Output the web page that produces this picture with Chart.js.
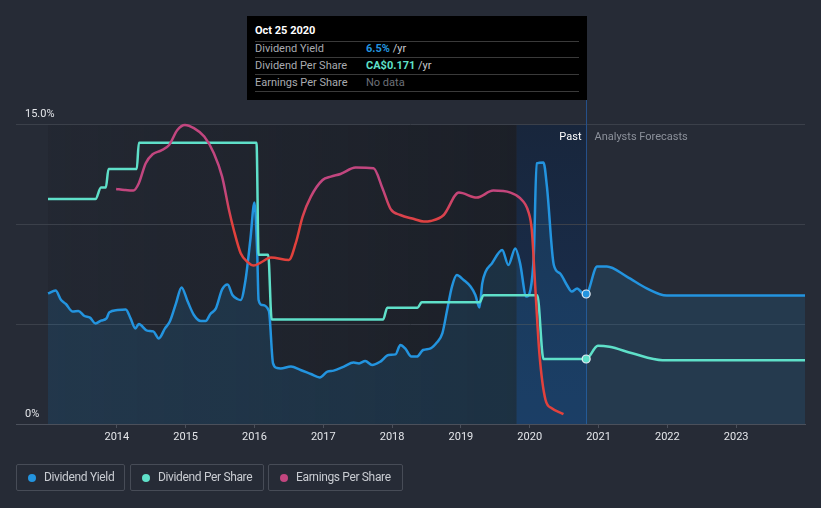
<!DOCTYPE html>
<html><head><meta charset="utf-8">
<script src="https://cdn.jsdelivr.net/npm/chart.js@4.4.0/dist/chart.umd.min.js"></script>
<style>
html,body{margin:0;padding:0;background:#262b36;width:821px;height:508px;overflow:hidden;font-family:Roboto,"Open Sans",sans-serif;}
#c{position:absolute;left:0;top:0;}
#tip{position:absolute;left:247px;top:16px;width:340px;height:84px;background:#000;}
#tip .t{position:absolute;left:8px;top:8px;font-size:11px;font-weight:bold;color:#fff;line-height:14px;}
#tip .sep{position:absolute;left:8px;width:324px;height:1px;background:#3a3a3a;}
#tip .k{position:absolute;left:8px;font-size:11px;color:#a9abb0;line-height:14px;}
#tip .v{position:absolute;left:119px;font-size:11px;color:#c9cbd0;line-height:14px;}
#legend{position:absolute;left:16px;top:464px;height:27px;}
.li{position:absolute;top:0;height:27px;box-sizing:border-box;border:1px solid #474c57;border-radius:2px;font-size:12px;color:#c9ccd2;line-height:25px;letter-spacing:-0.35px;}
.li .d{position:absolute;left:11px;top:9px;width:8px;height:8px;border-radius:50%;}
.li span{position:absolute;left:27px;top:0;white-space:nowrap;}
</style></head>
<body>
<canvas id="c" width="821" height="508"></canvas>
<div id="tip">
  <div class="t">Oct 25 2020</div>
  <div class="sep" style="top:25px"></div>
  <div class="k" style="top:26px">Dividend Yield</div>
  <div class="v" style="top:26px"><b style="color:#2394df">6.5%</b> /yr</div>
  <div class="sep" style="top:41px"></div>
  <div class="k" style="top:43px">Dividend Per Share</div>
  <div class="v" style="top:43px"><b style="color:#5fe0c9">CA$0.171</b> /yr</div>
  <div class="sep" style="top:58px"></div>
  <div class="k" style="top:60px">Earnings Per Share</div>
  <div class="v" style="top:60px;color:#6d7078">No data</div>
  <div class="sep" style="top:75px"></div>
</div>
<div id="legend">
  <div class="li" style="left:0;width:109px"><div class="d" style="background:#2394df"></div><span>Dividend Yield</span></div>
  <div class="li" style="left:114px;width:134px"><div class="d" style="background:#5fe0c9"></div><span>Dividend Per Share</span></div>
  <div class="li" style="left:252px;width:135px"><div class="d" style="background:#c2467f"></div><span>Earnings Per Share</span></div>
</div>
<script>
const tickYears = [2014,2015,2016,2017,2018,2019,2020,2021,2022,2023];
const NOW = 2020.82;
const PAST_START = 2019.81;

const yieldYears = [2013.0,2013.11,2013.19,2013.26,2013.36,2013.44,2013.53,2013.61,2013.69,2013.77,2013.85,2013.89,2014.01,2014.13,2014.20,2014.27,2014.32,2014.44,2014.53,2014.61,2014.70,2014.77,2014.86,2014.94,2015.03,2015.12,2015.22,2015.29,2015.36,2015.44,2015.53,2015.61,2015.68,2015.75,2015.80,2015.87,2015.94,2016.00,2016.04,2016.06,2016.11,2016.21,2016.27,2016.33,2016.38,2016.53,2016.67,2016.82,2016.95,2017.06,2017.15,2017.30,2017.44,2017.52,2017.61,2017.71,2017.83,2017.95,2018.05,2018.12,2018.19,2018.28,2018.36,2018.45,2018.56,2018.65,2018.73,2018.80,2018.87,2018.94,2019.04,2019.14,2019.21,2019.27,2019.31,2019.36,2019.45,2019.60,2019.69,2019.79,2019.86,2019.95,2020.01,2020.06,2020.10,2020.20,2020.25,2020.35,2020.44,2020.54,2020.61,2020.69,2020.76,2020.82,2020.98,2021.12,2021.41,2021.70,2021.99,2024.0];
const yieldValues = [6.53,6.67,6.2,6.0,5.62,5.65,5.4,5.32,5.03,5.17,5.28,5.58,5.7,5.73,5.28,4.78,5.0,4.67,4.63,4.28,4.78,5.12,6.03,6.83,6.12,5.45,5.15,5.15,5.5,5.78,6.73,6.98,6.45,6.25,6.2,7.2,9.2,11.07,8.55,6.2,5.95,5.65,3.03,2.8,2.78,2.87,2.7,2.5,2.33,2.62,2.67,2.87,3.07,3.03,3.15,2.95,3.12,3.45,3.48,3.95,3.78,3.37,3.37,3.7,3.78,4.07,4.53,5.7,6.87,7.45,7.2,6.87,6.45,5.82,7.03,7.62,8.03,8.7,7.95,8.78,8.03,6.37,6.7,8.53,13.03,13.07,11.87,7.95,7.53,6.95,6.62,6.78,6.57,6.5,7.87,7.87,7.37,6.78,6.42,6.42];

const dpsYears = [2013.0,2013.69,2013.77,2013.84,2013.88,2014.29,2014.32,2016.03,2016.06,2016.20,2016.25,2017.87,2017.93,2018.37,2018.43,2019.27,2019.33,2020.11,2020.20,2020.82,2020.99,2021.16,2021.49,2021.93,2024.0];
const dpsValues = [0.592,0.592,0.622,0.622,0.671,0.671,0.740,0.740,0.445,0.445,0.275,0.275,0.306,0.306,0.320,0.320,0.339,0.339,0.171,0.171,0.206,0.203,0.186,0.168,0.168];

const epsYears = [2013.99,2014.11,2014.24,2014.32,2014.42,2014.52,2014.64,2014.76,2014.88,2014.99,2015.12,2015.27,2015.41,2015.53,2015.63,2015.70,2015.80,2015.91,2015.99,2016.09,2016.24,2016.50,2016.60,2016.70,2016.82,2016.99,2017.11,2017.25,2017.47,2017.73,2017.86,2017.98,2018.12,2018.32,2018.46,2018.56,2018.75,2018.97,2019.23,2019.47,2019.72,2019.86,2019.98,2020.03,2020.08,2020.14,2020.23,2020.32,2020.49];
const epsValues = [1.175,1.17,1.167,1.204,1.304,1.349,1.367,1.395,1.47,1.495,1.479,1.437,1.354,1.237,1.07,0.97,0.854,0.807,0.792,0.807,0.832,0.82,0.904,1.037,1.137,1.22,1.237,1.25,1.282,1.279,1.179,1.074,1.045,1.025,1.012,1.015,1.045,1.157,1.132,1.167,1.157,1.129,1.062,0.97,0.687,0.354,0.12,0.079,0.049];

const toXY = (xs, ys) => xs.map((x,i)=>({x:x, y:ys[i]}));
const markerRadius = c => (c.raw && c.raw.x === NOW) ? 4 : 0;

const bgPlugin = {
  id:'bgShade',
  beforeDraw(chart){
    const {ctx, chartArea:a, scales:{x}} = chart;
    const x0 = x.getPixelForValue(yieldYears[0]);
    const x1 = x.getPixelForValue(PAST_START);
    const x2 = x.getPixelForValue(NOW);
    ctx.save();
    let g = ctx.createLinearGradient(x0,0,x1,0);
    g.addColorStop(0,'rgba(12,14,18,0.10)');
    g.addColorStop(1,'rgba(12,14,18,0.38)');
    ctx.fillStyle = g;
    ctx.fillRect(x0,a.top,x1-x0,a.bottom-a.top);
    g = ctx.createLinearGradient(0,a.top,0,a.bottom);
    g.addColorStop(0,'#18263c');
    g.addColorStop(1,'#1a3052');
    ctx.fillStyle = g;
    ctx.fillRect(x1,a.top,x2-x1,a.bottom-a.top);
    ctx.restore();
  },
  beforeDatasetsDraw(chart){
    const {ctx, chartArea:a, scales:{x}} = chart;
    const x2 = Math.round(x.getPixelForValue(NOW)) + 0.5;
    ctx.save();
    ctx.strokeStyle = '#25508a';
    ctx.lineWidth = 1;
    ctx.beginPath(); ctx.moveTo(x2,100); ctx.lineTo(x2,a.bottom); ctx.stroke();
    ctx.font = '11px Roboto';
    ctx.textBaseline = 'middle';
    ctx.textAlign = 'right';
    ctx.fillStyle = '#ffffff';
    ctx.fillText('Past', x2-5, a.top+13);
    ctx.textAlign = 'left';
    ctx.fillStyle = '#8c919b';
    ctx.fillText('Analysts Forecasts', x2+8, a.top+13);
    ctx.restore();
  }
};

Chart.defaults.font.family = 'Roboto';
const epsColor = (c) => {
  const chart = c.chart; const a = chart.chartArea;
  if(!a) return '#c2467f';
  const s = chart.scales.yEps;
  const yTop = s.getPixelForValue(1.17), yBot = s.getPixelForValue(1.0);
  const g = chart.ctx.createLinearGradient(0,yTop,0,yBot);
  g.addColorStop(0,'#c2467f');
  g.addColorStop(1,'#e2413c');
  return g;
};

new Chart(document.getElementById('c'), {
  type:'line',
  data:{datasets:[
    {label:'Dividend Yield', data:toXY(yieldYears,yieldValues), yAxisID:'y', order:3,
     borderColor:'#2394df', borderWidth:2.5, backgroundColor:'rgba(35,148,223,0.15)', fill:'origin',
     cubicInterpolationMode:'monotone', pointRadius:markerRadius, pointBackgroundColor:'#2394df',
     pointBorderColor:'#e8eef5', pointBorderWidth:1.2, clip:8},
    {label:'Dividend Per Share', data:toXY(dpsYears,dpsValues), yAxisID:'yDps', order:2,
     borderColor:'#5fe0c9', borderWidth:2.5, fill:false,
     cubicInterpolationMode:'monotone', pointRadius:markerRadius, pointBackgroundColor:'#5fe0c9',
     pointBorderColor:'#e8eef5', pointBorderWidth:1.2, clip:8},
    {label:'Earnings Per Share', data:toXY(epsYears,epsValues), yAxisID:'yEps', order:1,
     borderColor:epsColor, borderWidth:2.5, fill:false,
     cubicInterpolationMode:'monotone', pointRadius:0, clip:8}
  ]},
  options:{
    responsive:false, animation:false, devicePixelRatio:1, events:[],
    layout:{padding:{left:16,right:16,top:124,bottom:54}},
    plugins:{legend:{display:false}, tooltip:{enabled:false}},
    scales:{
      x:{type:'linear', min:2012.535, max:2024,
         afterBuildTicks:s=>{ s.ticks = tickYears.map(v=>({value:v})); },
         afterFit:s=>{ s.height = 30; },
         ticks:{color:'#e4e6ea', font:{size:11}, padding:3, maxRotation:0, autoSkip:false, callback:v=>String(v)},
         grid:{drawOnChartArea:false, drawTicks:true, tickLength:4, color:'#4b505b'},
         border:{display:true, color:'#4b505b', width:1}},
      y:{position:'left', min:0, max:15,
         afterFit:s=>{ s.width = 0; },
         ticks:{stepSize:5, mirror:true, padding:9, labelOffset:-10, color:'#e4e6ea', font:{size:11},
                callback:v=> v===15 ? '15.0%' : (v===0 ? '0%' : '')},
         grid:{color:'#3b404a', drawTicks:false, lineWidth:1},
         border:{display:false}},
      yDps:{display:false, min:0, max:0.7893},
      yEps:{display:false, min:0, max:1.5}
    }
  },
  plugins:[bgPlugin]
});
</script>
</body></html>
